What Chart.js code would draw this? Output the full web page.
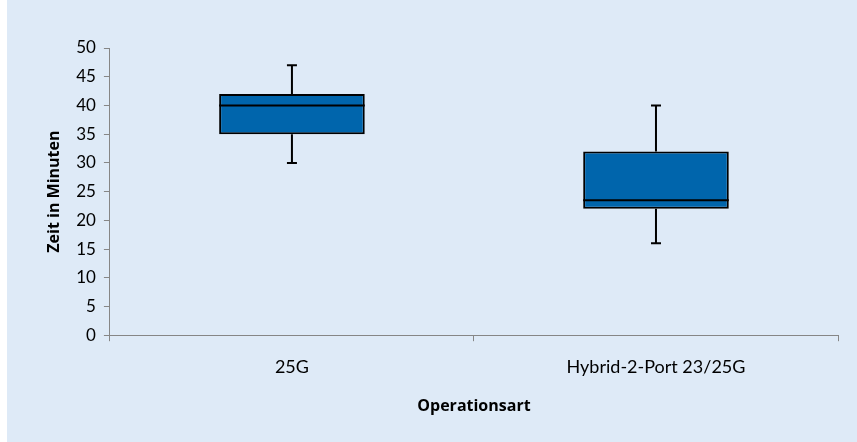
<!DOCTYPE html>
<html>
<head>
<meta charset="utf-8">
<script src="https://cdn.jsdelivr.net/npm/chart.js@4"></script>
<style>
  body { margin: 0; background: #ffffff; }
  #wrap { position: absolute; left: 7px; top: 0; width: 850px; height: 442px; background: #deeaf7; }
</style>
</head>
<body>
<div id="wrap"><canvas id="boxChart"></canvas></div>
<script>
const categories = ['25G', 'Hybrid-2-Port 23/25G'];
const minValues = [30, 16];
const q1Values = [35, 22];
const medianValues = [40, 23.5];
const q3Values = [42, 32];
const maxValues = [47, 40];
const yTicks = [0, 5, 10, 15, 20, 25, 30, 35, 40, 45, 50];

// whiskers and median lines on top of the floating bars
const boxExtras = {
    id: 'boxExtras',
    afterDatasetsDraw(chart) {
        const ctx = chart.ctx;
        const yScale = chart.scales.y;
        const meta = chart.getDatasetMeta(0);
        ctx.save();
        ctx.strokeStyle = '#000000';
        ctx.lineWidth = 2;
        meta.data.forEach((bar, i) => {
            const x = bar.x;
            const half = bar.width / 2;
            const yMin = yScale.getPixelForValue(minValues[i]);
            const yMax = yScale.getPixelForValue(maxValues[i]);
            const yQ1 = yScale.getPixelForValue(q1Values[i]);
            const yQ3 = yScale.getPixelForValue(q3Values[i]);
            const yMed = yScale.getPixelForValue(medianValues[i]);
            ctx.beginPath();
            ctx.moveTo(x, yQ3); ctx.lineTo(x, yMax);
            ctx.moveTo(x - 5, yMax); ctx.lineTo(x + 5, yMax);
            ctx.moveTo(x, yQ1); ctx.lineTo(x, yMin);
            ctx.moveTo(x - 5, yMin); ctx.lineTo(x + 5, yMin);
            ctx.moveTo(x - half, yMed); ctx.lineTo(x + half, yMed);
            ctx.stroke();
        });
        ctx.restore();
    }
};

const boxCtx = document.getElementById('boxChart').getContext('2d');

new Chart(boxCtx, {
    type: 'bar',
    data: {
        labels: categories,
        datasets: [{
            label: 'Zeit',
            data: categories.map((c, i) => [q1Values[i], q3Values[i]]),
            backgroundColor: '#0065ac',
            borderColor: '#000000',
            borderWidth: 2,
            borderSkipped: false,
            categoryPercentage: 0.4,
            barPercentage: 1.0
        }]
    },
    options: {
        responsive: true,
        maintainAspectRatio: false,
        animation: false,
        layout: { padding: { top: 48, right: 19, bottom: 22, left: 34 } },
        plugins: { legend: { display: false }, tooltip: { enabled: false } },
        scales: {
            x: {
                offset: true,
                grid: { display: true, offset: true, drawOnChartArea: false, drawTicks: true, tickLength: 6, color: '#868686' },
                border: { color: '#868686', width: 1 },
                ticks: { color: '#000000', font: { family: 'Lato', size: 18 }, padding: 15 },
                title: { display: true, text: 'Operationsart', color: '#000000', font: { family: 'Open Sans', size: 16, weight: 'bold' }, padding: { top: 4 } }
            },
            y: {
                min: 0,
                max: 50,
                afterBuildTicks: (axis) => { axis.ticks = yTicks.map(v => ({ value: v })); },
                grid: { display: true, drawOnChartArea: false, drawTicks: true, tickLength: 6, color: '#868686' },
                border: { color: '#868686', width: 1 },
                ticks: { color: '#000000', font: { family: 'Lato', size: 17 }, padding: 8 },
                title: { display: true, text: 'Zeit in Minuten', color: '#000000', font: { family: 'Open Sans', size: 16, weight: 'bold' }, padding: { bottom: 4 } }
            }
        }
    },
    plugins: [boxExtras]
});
</script>
</body>
</html>
